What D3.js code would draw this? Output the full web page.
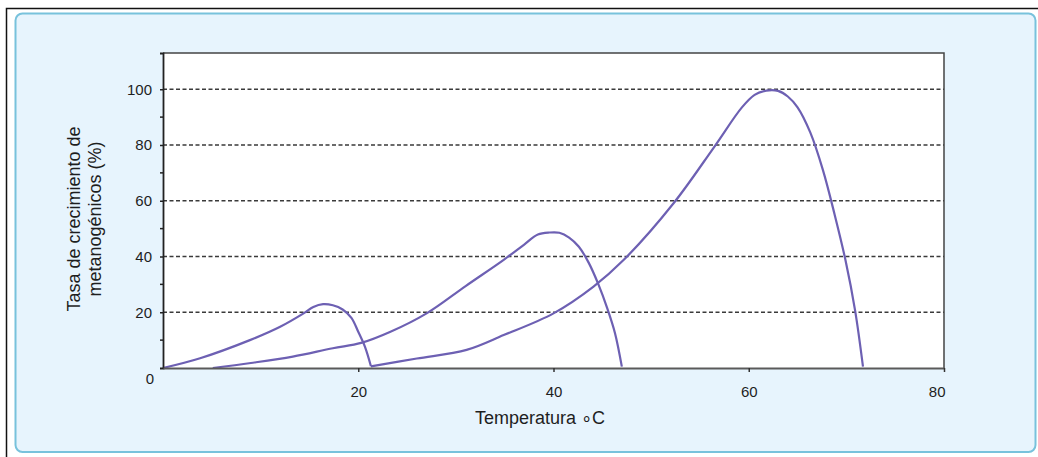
<!DOCTYPE html>
<html>
<head>
<meta charset="utf-8">
<script src="https://cdn.jsdelivr.net/npm/d3@7"></script>
<style>
  html, body { margin: 0; padding: 0; background: #ffffff; }
  svg { display: block; }
  text { font-family: "Liberation Sans", Arial, sans-serif; fill: #1e1e1e; }
</style>
</head>
<body>
<svg id="chart" width="1038" height="457"></svg>
<script>
// ---- data ----
const xTicks = [20, 40, 60, 80];
const yTicks = [20, 40, 60, 80, 100];
const yMinorTicks = [10, 30, 50, 70, 90];
const xTitle = "Temperatura \u2218C";
const yTitleLines = ["Tasa de crecimiento de", "metanogénicos (%)"];

const psychroT = [0, 3.8, 8.9, 12, 14.4, 15.4, 16.4, 17.4, 18.4, 19.3, 20.0, 20.7, 21.3];
const psychroV = [0, 3.5, 10, 14.8, 19.6, 21.9, 22.9, 22.5, 21.0, 18.0, 13.0, 7.5, 0.6];

const mesoT = [5.1, 9, 13.3, 17.4, 20.3, 23.3, 27, 31, 34.9, 37, 38.4, 39.6, 40.6, 41.6, 42.6, 43.6, 44.6, 45.5, 46.3, 47.0];
const mesoV = [0, 1.8, 4.1, 7.1, 9, 13, 19.6, 29.4, 38.8, 44.3, 47.9, 48.6, 48.5, 46.8, 43.5, 37.8, 30, 21.5, 12.5, 0.5];

const thermoT = [21.3, 26, 31.1, 34.9, 40, 44.1, 47.2, 52.3, 56.4, 59.3, 60.6, 61.8, 63.0, 64.0, 65.0, 66.3, 67.6, 68.8, 69.9, 70.9, 71.7];
const thermoV = [0.6, 3.4, 6.5, 11.8, 19.6, 29.2, 38.8, 59.1, 79, 93.5, 98, 99.5, 99.4, 97.4, 93.5, 84.5, 71, 55, 38.8, 20.5, 0.5];

// ---- layout ----
const svg = d3.select("#chart");
const L = 163, R = 944, T = 53, B = 368;

const x = d3.scaleLinear().domain([0, 80]).range([L, R]);
const y = d3.scaleLinear().domain([0, 113]).range([B, T]);

// outer frame lines
svg.append("path")
  .attr("d", "M6.5,457 L6.5,8.5 L1038,8.5")
  .attr("fill", "none").attr("stroke", "#111").attr("stroke-width", 1.5);

// blue panel
svg.append("rect")
  .attr("x", 15.5).attr("y", 13.5).attr("width", 1020).attr("height", 438.5)
  .attr("rx", 7).attr("fill", "#e7f4fd").attr("stroke", "#78c2dc").attr("stroke-width", 2);

// plot area
svg.append("rect")
  .attr("x", L).attr("y", T).attr("width", R - L).attr("height", B - T)
  .attr("fill", "#ffffff");

// gridlines
svg.append("g").selectAll("line").data(yTicks).join("line")
  .attr("x1", L).attr("x2", R)
  .attr("y1", d => y(d)).attr("y2", d => y(d))
  .attr("stroke", "#3a3a3a").attr("stroke-width", 1.3)
  .attr("stroke-dasharray", "4,2.5");

// top and right border
svg.append("path")
  .attr("d", `M${L},${T} L${R},${T} L${R},${B}`)
  .attr("fill", "none").attr("stroke", "#444").attr("stroke-width", 1.5);

// curves
const line = d3.line().x(d => x(d[0])).y(d => y(d[1])).curve(d3.curveCatmullRom.alpha(0.5));
const series = [
  d3.zip(psychroT, psychroV),
  d3.zip(mesoT, mesoV),
  d3.zip(thermoT, thermoV)
];
svg.append("g").selectAll("path").data(series).join("path")
  .attr("d", line)
  .attr("fill", "none")
  .attr("stroke", "#6d60b3")
  .attr("stroke-width", 2.2)
  .attr("stroke-linejoin", "round");

// y axis
const yAxis = d3.axisLeft(y).tickValues(yTicks).tickSize(3).tickPadding(8);
const gy = svg.append("g").attr("transform", `translate(${L},0)`).call(yAxis);
gy.select(".domain").attr("stroke", "#222").attr("stroke-width", 1.8);
gy.selectAll(".tick line").attr("stroke", "#222").attr("stroke-width", 1.5);
gy.selectAll(".tick text").attr("font-size", 15).attr("font-family", "Liberation Sans, Arial, sans-serif").attr("fill", "#1e1e1e");
// minor y ticks
svg.append("g").selectAll("line").data(yMinorTicks).join("line")
  .attr("x1", L - 3).attr("x2", L)
  .attr("y1", d => y(d)).attr("y2", d => y(d))
  .attr("stroke", "#222").attr("stroke-width", 1.5);

// x axis
const xAxis = d3.axisBottom(x).tickValues(xTicks).tickSize(4).tickPadding(14).tickSizeOuter(0);
const gx = svg.append("g").attr("transform", `translate(0,${B})`).call(xAxis);
gx.select(".domain").attr("stroke", "#5a5a5a").attr("stroke-width", 2.2);
gx.selectAll(".tick line").attr("stroke", "#333").attr("stroke-width", 1.5);
gx.selectAll(".tick text").attr("font-size", 15).attr("font-family", "Liberation Sans, Arial, sans-serif").attr("fill", "#1e1e1e")
  .attr("text-anchor", (d, i) => i === xTicks.length - 1 ? "end" : "middle")
  .attr("dx", (d, i) => i === xTicks.length - 1 ? "1" : "0");

// corner zero
svg.append("text")
  .attr("x", x(0) - 13).attr("y", y(0) + 16)
  .attr("text-anchor", "middle").attr("font-size", 15)
  .text("0");

// x title
svg.append("text")
  .attr("x", 540).attr("y", 424)
  .attr("text-anchor", "middle").attr("font-size", 18)
  .text(xTitle);

// y title
const yt = svg.append("text")
  .attr("transform", "translate(80,219) rotate(-90)")
  .attr("text-anchor", "middle").attr("font-size", 18);
yTitleLines.forEach((t, i) => {
  yt.append("tspan").attr("x", 0).attr("y", i * 21).text(t);
});
</script>
</body>
</html>
